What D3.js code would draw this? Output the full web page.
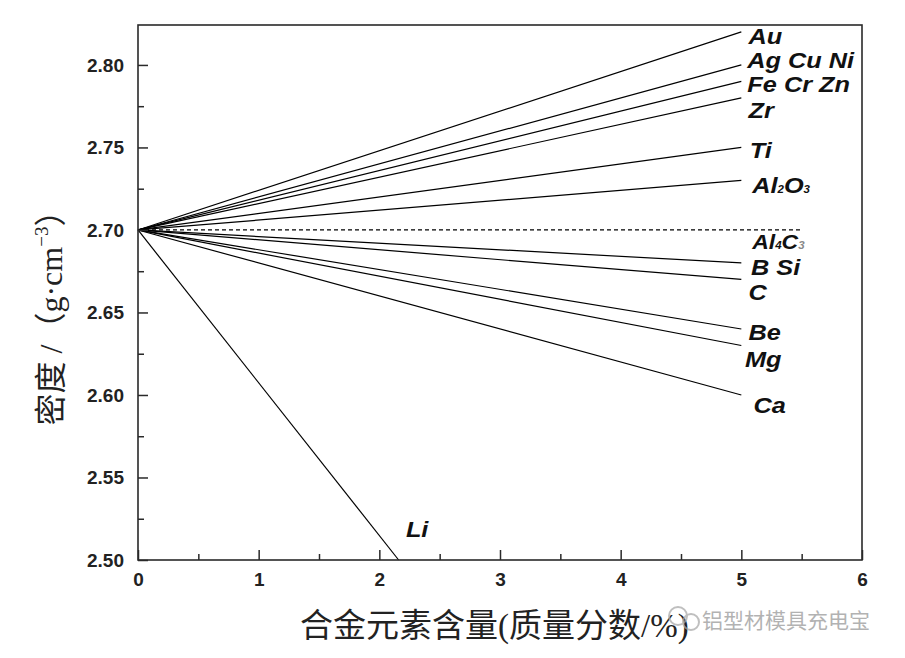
<!DOCTYPE html>
<html><head><meta charset="utf-8">
<script src="https://cdn.jsdelivr.net/npm/d3@7"></script>
<style>
body{margin:0;background:#fff;}
svg{display:block;}
</style></head>
<body>
<svg id="c" width="905" height="658"></svg>
<script>
// ---- data ----
const xTicks = [0, 1, 2, 3, 4, 5, 6];
const xMinor = [0.5, 1.5, 2.5, 3.5, 4.5, 5.5];
const yTicks = [2.50, 2.55, 2.60, 2.65, 2.70, 2.75, 2.80];
const yMinor = [2.525, 2.575, 2.625, 2.675, 2.725, 2.775];
const baseDensity = 2.70;
const seriesNames = ["Au", "Ag Cu Ni", "Fe Cr Zn", "Zr", "Ti", "Al2O3", "B Si", "C", "Be", "Mg", "Ca", "Li"];
const endContent = [5, 5, 5, 5, 5, 5, 5, 5, 5, 5, 5, 2.16];
const endDensity = [2.82, 2.80, 2.79, 2.78, 2.75, 2.73, 2.68, 2.67, 2.64, 2.63, 2.60, 2.50];
const pureAlLine = {x: [0, 5.5], y: [2.70, 2.70]};
// labels (text, density level of the label baseline, content level of its left edge)
const labelText = ["Au", "Ag Cu Ni", "Fe Cr Zn", "Zr", "Ti", "Al2O3", "Al4C3", "B Si", "C", "Be", "Mg", "Ca", "Li"];
const labelDensity = [2.8127, 2.7982, 2.7836, 2.7679, 2.7436, 2.7224, 2.6882, 2.6728, 2.6576, 2.6333, 2.6170, 2.5891, 2.5139];
const labelContent = [5.06, 5.05, 5.05, 5.06, 5.07, 5.09, 5.09, 5.08, 5.06, 5.06, 5.03, 5.10, 2.22];

// ---- layout ----
const svg = d3.select("#c");
const L = 138, R = 862, T = 25, B = 560;
const x = d3.scaleLinear().domain([0, 6]).range([L, R]);
const y = d3.scaleLinear().domain([2.50, 2.8242]).range([B, T]);
const axisColor = "#2a2a2a";

// lines
const line = d3.line().x(d => x(d[0])).y(d => y(d[1]));
const g = svg.append("g");
seriesNames.forEach((n, i) => {
  g.append("path")
    .attr("d", line([[0, baseDensity], [endContent[i], endDensity[i]]]))
    .attr("fill", "none").attr("stroke", "#000").attr("stroke-width", 1.2);
});
g.append("path")
  .attr("d", line(pureAlLine.x.map((v, i) => [v, pureAlLine.y[i]])))
  .attr("fill", "none").attr("stroke", "#000").attr("stroke-width", 1.2)
  .attr("stroke-dasharray", "4,3");

// axes
function styleAxis(sel) {
  sel.select(".domain").remove();
  sel.selectAll(".tick line").attr("stroke", axisColor).attr("stroke-width", 1.5);
  sel.selectAll(".tick text").attr("fill", "#222")
    .style("font-family", "'Liberation Sans', Arial, sans-serif")
    .style("font-weight", "bold").style("font-size", "19px");
}
svg.append("g").attr("transform", `translate(${L},0)`)
  .call(d3.axisLeft(y).tickValues(yTicks).tickFormat(d3.format(".2f")).tickSizeInner(-10).tickSizeOuter(0).tickPadding(14))
  .call(styleAxis);
svg.append("g").attr("transform", `translate(${L},0)`)
  .call(d3.axisLeft(y).tickValues(yMinor).tickFormat("").tickSizeInner(-6).tickSizeOuter(0))
  .call(styleAxis);
svg.append("g").attr("transform", `translate(0,${B})`)
  .call(d3.axisBottom(x).tickValues(xTicks).tickFormat(d3.format("d")).tickSizeInner(-10).tickSizeOuter(0).tickPadding(13))
  .call(styleAxis);
svg.append("g").attr("transform", `translate(0,${B})`)
  .call(d3.axisBottom(x).tickValues(xMinor).tickFormat("").tickSizeInner(-6).tickSizeOuter(0))
  .call(styleAxis);

// frame
svg.append("rect").attr("x", L).attr("y", T).attr("width", R - L).attr("height", B - T)
  .attr("fill", "none").attr("stroke", axisColor).attr("stroke-width", 1.6);

// labels
const lab = svg.append("g")
  .style("font-family", "'Liberation Sans', Arial, sans-serif")
  .style("font-weight", "bold").style("font-style", "italic")
  .attr("fill", "#111");
labelText.forEach((t, i) => {
  const tx = lab.append("text")
    .style("font-size", t === "Al4C3" ? "20px" : "22px")
    .attr("transform", `translate(${x(labelContent[i])},${y(labelDensity[i])}) scale(1.15,1)`);
  const m = t.match(/^(Al)(\d)([A-Z])(\d)$/);
  if (m) {
    tx.append("tspan").text(m[1]);
    tx.append("tspan").text(m[2]).style("font-size", "10px");
    tx.append("tspan").text(m[3]);
    tx.append("tspan").text(m[4]).style("font-size", "10px")
      .attr("fill", t === "Al4C3" ? "#888" : "#111");
  } else {
    tx.text(t);
  }
});

// y axis title
const yt = svg.append("text")
  .attr("transform", "translate(62,310) rotate(-90)")
  .attr("text-anchor", "middle")
  .style("font-family", "'Liberation Serif', 'Noto Sans CJK SC', serif")
  .style("font-size", "32px").attr("fill", "#222");
yt.append("tspan").text("密度 /（g·cm");
yt.append("tspan").text("−3").style("font-size", "19px").attr("dy", -14);
yt.append("tspan").text("）").attr("dy", 14);

// x axis title
svg.append("text").attr("x", 300).attr("y", 637)
  .style("font-family", "'Liberation Serif', 'Noto Sans CJK SC', serif")
  .style("font-size", "33px").attr("fill", "#222")
  .text("合金元素含量(质量分数/%)");

// watermark
const wm = svg.append("g").attr("opacity", 0.75);
wm.append("circle").attr("cx", 678).attr("cy", 616).attr("r", 9).attr("fill", "none").attr("stroke", "#aaa").attr("stroke-width", 2);
wm.append("circle").attr("cx", 691).attr("cy", 622).attr("r", 8).attr("fill", "none").attr("stroke", "#aaa").attr("stroke-width", 2);
wm.append("text").attr("x", 702).attr("y", 628)
  .style("font-family", "'Noto Sans CJK SC', sans-serif").style("font-size", "21px")
  .attr("fill", "#999").text("铝型材模具充电宝");
</script>
</body></html>
